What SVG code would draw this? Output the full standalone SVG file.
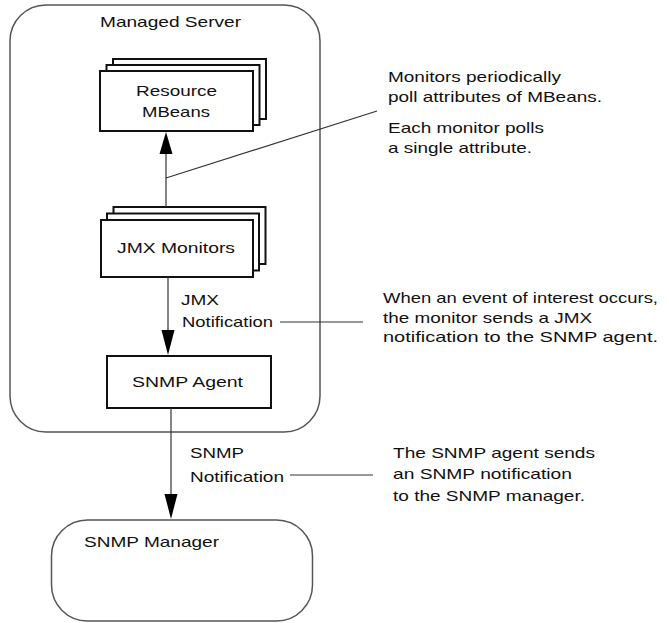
<svg xmlns="http://www.w3.org/2000/svg" width="669" height="623" viewBox="0 0 669 623">
<style>
text{font-family:"Liberation Sans",Arial,sans-serif;font-size:15px;fill:#111}
.cont{fill:#fff;stroke:#555;stroke-width:1.5}
.box{fill:#fff;stroke:#111;stroke-width:2}
.ln{fill:none;stroke:#333;stroke-width:1.2}
.ah{fill:#000}
</style>
<rect width="669" height="623" fill="#fff"/>
<g id="managed-server">
<rect class="cont" x="10" y="5" width="310" height="427" rx="36" ry="36"/>
<text x="100" y="27" textLength="141" lengthAdjust="spacingAndGlyphs">Managed Server</text>
</g>
<g id="snmp-manager">
<rect class="cont" x="51.5" y="520" width="261" height="101" rx="36" ry="36"/>
<text x="84" y="547" textLength="135" lengthAdjust="spacingAndGlyphs">SNMP Manager</text>
</g>
<g id="resource-mbeans">
<rect class="box" x="113" y="59" width="153" height="60"/>
<rect class="box" x="106.5" y="65" width="153" height="60"/>
<rect class="box" x="100" y="71" width="153" height="60"/>
<text x="136" y="96" textLength="81" lengthAdjust="spacingAndGlyphs">Resource</text>
<text x="142" y="117" textLength="68" lengthAdjust="spacingAndGlyphs">MBeans</text>
</g>
<g id="jmx-monitors">
<rect class="box" x="113.5" y="207" width="152" height="57"/>
<rect class="box" x="107" y="213.5" width="152" height="57"/>
<rect class="box" x="101" y="220" width="152" height="57"/>
<text x="117" y="253" textLength="118" lengthAdjust="spacingAndGlyphs">JMX Monitors</text>
</g>
<g id="snmp-agent">
<rect class="box" x="107" y="356" width="164" height="52"/>
<text x="132" y="387" textLength="111" lengthAdjust="spacingAndGlyphs">SNMP Agent</text>
</g>
<g id="connectors">
<line class="ln" x1="166" y1="207" x2="166" y2="152"/>
<polygon class="ah" points="166,132 159.5,154 172.5,154"/>
<line class="ln" x1="166" y1="178" x2="377" y2="111"/>
<line class="ln" x1="168" y1="277" x2="168" y2="332"/>
<polygon class="ah" points="168,355 161.5,330 174.5,330"/>
<line class="ln" x1="280" y1="322" x2="363" y2="322"/>
<line class="ln" x1="171" y1="408" x2="171" y2="496"/>
<polygon class="ah" points="171,519 164.5,494 177.5,494"/>
<line class="ln" x1="290" y1="475" x2="373" y2="475"/>
</g>
<g id="labels">
<text x="181" y="305" textLength="38" lengthAdjust="spacingAndGlyphs">JMX</text>
<text x="182" y="327" textLength="91" lengthAdjust="spacingAndGlyphs">Notification</text>
<text x="190" y="458" textLength="54" lengthAdjust="spacingAndGlyphs">SNMP</text>
<text x="190" y="482" textLength="94" lengthAdjust="spacingAndGlyphs">Notification</text>
<text x="388" y="82" textLength="173" lengthAdjust="spacingAndGlyphs">Monitors periodically</text>
<text x="388" y="102" textLength="214" lengthAdjust="spacingAndGlyphs">poll attributes of MBeans.</text>
<text x="388" y="133" textLength="156" lengthAdjust="spacingAndGlyphs">Each monitor polls</text>
<text x="388" y="153" textLength="144" lengthAdjust="spacingAndGlyphs">a single attribute.</text>
<text x="383" y="303" textLength="275" lengthAdjust="spacingAndGlyphs">When an event of interest occurs,</text>
<text x="383" y="323" textLength="209" lengthAdjust="spacingAndGlyphs">the monitor sends a JMX</text>
<text x="383" y="342" textLength="275" lengthAdjust="spacingAndGlyphs">notification to the SNMP agent.</text>
<text x="393" y="458" textLength="202" lengthAdjust="spacingAndGlyphs">The SNMP agent sends</text>
<text x="393" y="479" textLength="179" lengthAdjust="spacingAndGlyphs">an SNMP notification</text>
<text x="393" y="501" textLength="192" lengthAdjust="spacingAndGlyphs">to the SNMP manager.</text>
</g>
</svg>
